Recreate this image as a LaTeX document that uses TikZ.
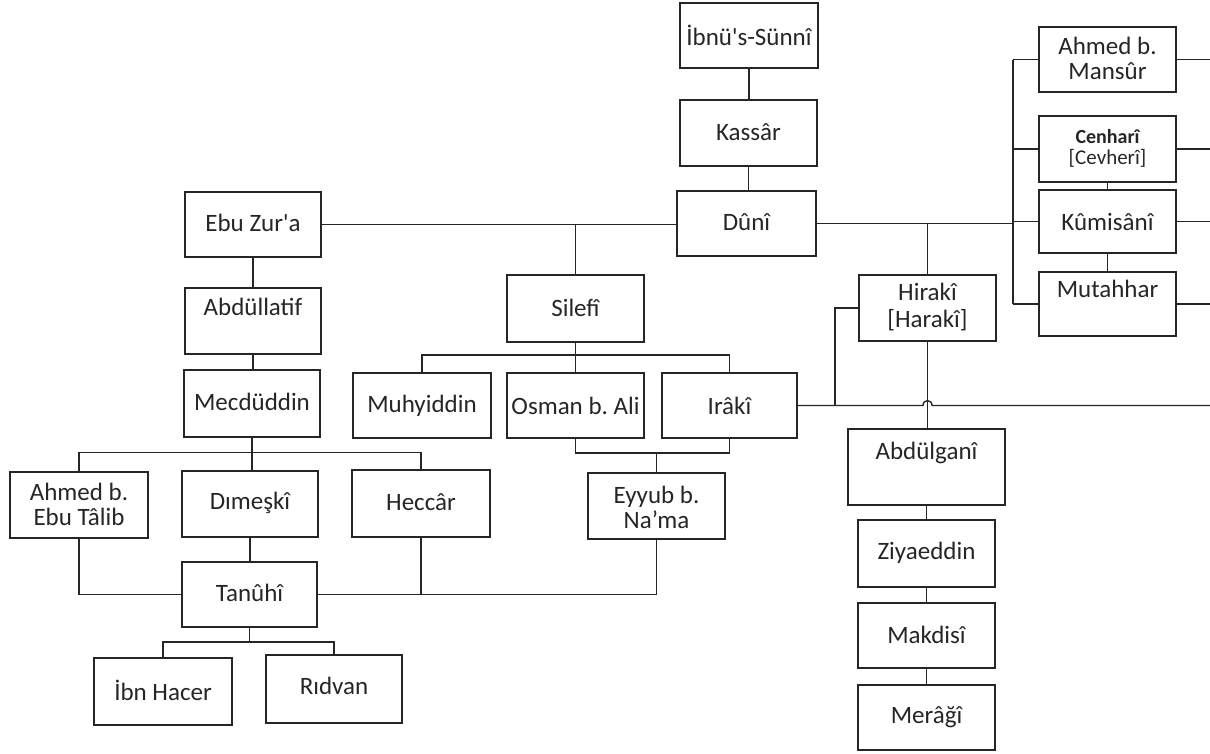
\documentclass[tikz,border=0pt]{standalone}
\usepackage{fontspec}
\setmainfont{Carlito}[Ligatures=TeXOff]
\frenchspacing
\newcommand\bx[7]{%
  \node[box,minimum width=#4pt,minimum height=#5pt] (#1) at (#2,#3) {};
  \node[txt] (#1t) at (#2,#6) {#7};}
\begin{document}
\begin{tikzpicture}[x=1pt,y=-1pt,
  box/.style={draw=black!85,line width=1.6pt,inner sep=0pt},
  txt/.style={inner sep=0pt,align=center,text=black!85,font=\fontsize{25}{25}\selectfont},
  conn/.style={draw=black!85,line width=1.4pt}]
\useasboundingbox (0,0) rectangle (1210,753);
\fill[white] (0,0) rectangle (1210,753);
\coordinate (redge) at (1210,0);
\coordinate (rbar) at (1013,0);
\coordinate (hbar) at (835,0);
\coordinate (mb) at (0,452.5);
\coordinate (sb) at (0,355);
\coordinate (ob) at (0,453);
\coordinate (tb) at (0,642);
% boxes
\bx{ibnu}{749}{35.5}{138}{65}{35}{İbnü's-Sünnî}
\bx{kassar}{748.5}{133}{137}{66}{132}{Kassâr}
\bx{duni}{746.5}{223.5}{139}{65}{222}{Dûnî}
\bx{ebu}{253}{224.5}{136}{65}{223}{Ebu Zur'a}
\bx{abdl}{253}{321}{136}{66}{307}{Abdüllatif}
\bx{mecd}{252}{403.5}{136}{67}{402}{Mecdüddin}
\bx{silefi}{575.5}{308.5}{137}{67}{308}{Silefî}
\bx{muhy}{422}{405.5}{138}{65}{406}{Muhyiddin}
\bx{osman}{575.5}{405.5}{137}{65}{406}{Osman b. Ali}
\bx{iraki}{729.5}{405.5}{135}{65}{406}{Irâkî}
\bx{eyyub}{656.5}{506}{137}{66}{507}{Eyyub b.\\Na’ma}
\bx{ahmede}{79}{505}{138}{66}{504}{Ahmed b.\\Ebu Tâlib}
\bx{dimeski}{250}{504}{136}{66}{503}{Dımeşkî}
\bx{heccar}{421}{503.5}{138}{67}{502}{Heccâr}
\bx{tanuhi}{249.5}{594.5}{135}{65}{593}{Tanûhî}
\bx{ibnhacer}{163}{691.5}{138}{67}{690}{İbn Hacer}
\bx{ridvan}{334}{689}{136}{68}{686}{Rıdvan}
\bx{ahmedm}{1107.5}{59.5}{137}{65}{58}{Ahmed b.\\Mansûr}
\bx{cenhari}{1107.5}{149}{137}{66}{148}{{\bfseries\fontsize{20}{21}\selectfont Cenharî}\\[-4pt]{\fontsize{21}{21}\selectfont [Cevherî]}}
\bx{kumis}{1107.5}{221.5}{137}{63}{222}{Kûmisânî}
\bx{mutah}{1107.5}{304}{137}{64}{289}{Mutahhar}
\bx{hiraki}{927.5}{308}{137}{66}{307}{Hirakî\\[2pt]{[Harakî]}}
\bx{abdg}{926.5}{467}{157}{76}{453}{Abdülganî}
\bx{ziya}{926.5}{553.5}{137}{67}{553}{Ziyaeddin}
\bx{makd}{926.5}{635.5}{137}{65}{635}{Makdisî}
\bx{merg}{926.5}{717.5}{137}{65}{717}{Merâğî}
\coordinate (hx) at (hiraki.south |- iraki.east);
% connectors
\begin{scope}[conn]
\draw (ibnu.south) -- (ibnu.south |- kassar.north);
\draw (kassar.south) -- (kassar.south |- duni.north);
\draw (ebu.east) -- (ebu.east -| duni.west);
\draw (silefi.north) -- (silefi.north |- ebu.east);
\draw (duni.east) -- (duni.east -| rbar);
\draw (rbar |- ahmedm.west) -- (rbar |- mutah.west);
\foreach \n in {ahmedm,cenhari,kumis,mutah}{
  \draw (\n.west) -- (\n.west -| rbar);
  \draw (\n.east) -- (\n.east -| redge);}
\draw (cenhari.south) -- (kumis.north);
\draw (kumis.south) -- (mutah.north);
\draw (hiraki.north) -- (hiraki.north |- duni.east);
\draw (hiraki.west) -- (hiraki.west -| hbar) -- (hbar |- iraki.east);
\draw (iraki.east) -- ([xshift=-4.5pt]hx) .. controls ([xshift=-4.5pt,yshift=6.5pt]hx) and ([xshift=4.5pt,yshift=6.5pt]hx) .. ([xshift=4.5pt]hx) -- (hx -| redge);
\draw (hiraki.south) -- (hiraki.south |- abdg.north);
\draw (abdg.south) -- (abdg.south |- ziya.north);
\draw (ziya.south) -- (makd.north);
\draw (makd.south) -- (merg.north);
\draw (ebu.south) -- (ebu.south |- abdl.north);
\draw (abdl.south) -- (abdl.south |- mecd.north);
\draw (mecd.south) -- (mecd.south |- dimeski.north);
\draw (ahmede.north) -- (ahmede.north |- mb) -- (heccar.north |- mb) -- (heccar.north);
\draw (silefi.south) -- (silefi.south |- osman.north);
\draw (muhy.north) -- (muhy.north |- sb) -- (iraki.north |- sb) -- (iraki.north);
\draw (osman.south) -- (osman.south |- ob) -- (iraki.south |- ob) -- (iraki.south);
\draw (eyyub.north) -- (eyyub.north |- ob);
\draw (ahmede.south) -- (ahmede.south |- tanuhi.west) -- (tanuhi.west);
\draw (tanuhi.east) -- (eyyub.south |- tanuhi.east) -- (eyyub.south);
\draw (heccar.south) -- (heccar.south |- tanuhi.east);
\draw (dimeski.south) -- (dimeski.south |- tanuhi.north);
\draw (tanuhi.south) -- (tanuhi.south |- tb);
\draw (ibnhacer.north) -- (ibnhacer.north |- tb) -- (ridvan.north |- tb) -- (ridvan.north);
\end{scope}
\end{tikzpicture}
\end{document}
